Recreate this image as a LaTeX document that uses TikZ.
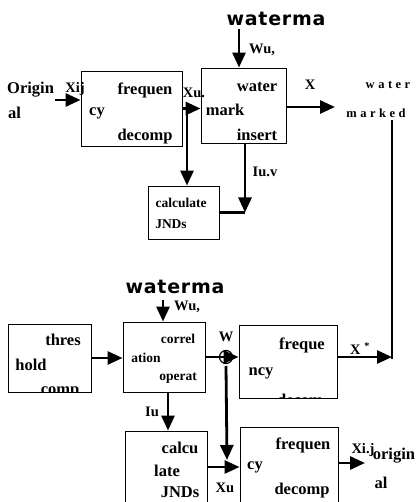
\documentclass[tikz,border=0pt]{standalone}
\usepackage{fontspec}
\setmainfont{Liberation Serif}
\newfontfamily\widefont[LetterSpace=4]{DejaVu Sans}
\newfontfamily\spacedfont[LetterSpace=28]{Liberation Serif}
\usetikzlibrary{arrows.meta}
\tikzset{
  blk/.style = {draw=black, line width=0.9pt, rectangle, inner sep=0pt},
  txt/.style = {inner sep=0pt, font=\fontsize{16.5}{16.5}\selectfont\bfseries},% texte des blocs
  small/.style = {inner sep=0pt, font=\fontsize{13.5}{13.5}\selectfont\bfseries},
  lbl/.style = {inner sep=0pt, font=\fontsize{14.5}{14.5}\selectfont\bfseries},% etiquettes des fleches
  wm/.style = {inner sep=0pt, font=\widefont\fontsize{19}{19}\selectfont\bfseries},
  flow/.style = {line width=2.8pt, -{Triangle[length=15pt,width=13pt]}},
  wire/.style = {line width=2.8pt},
}

\begin{document}
\begin{tikzpicture}[x=1pt,y=-1pt]
\useasboundingbox (0,0) rectangle (419,502);

% blocs
\node [blk, minimum width=101, minimum height=75] (fdtop) at (131.5,108.5) {};
\node [blk, minimum width=85, minimum height=75] (insert) at (243.5,105.5) {};
\node [blk, minimum width=71, minimum height=53] (jndtop) at (183.5,212.5) {};
\node [blk, minimum width=83, minimum height=68] (thres) at (49.5,358) {};
\node [blk, minimum width=82, minimum height=70] (corr) at (164,357) {};
\node [blk, minimum width=98, minimum height=73] (fdmid) at (288,361.5) {};
\node [blk, minimum width=82, minimum height=80] (jndbot) at (166,471) {};
\node [blk, minimum width=98, minimum height=84] (fdbot) at (289,469) {};

% textes des blocs
\node [txt] (f1) at (145,90) {frequen};
\node [txt] (f2) at (97,113) {cy};
\node [txt] (f3) at (145,137) {decomp};
\node [txt] (i1) at (257,87) {water};
\node [txt] (i2) at (225,110) {mark};
\node [txt] (i3) at (257,135) {insert};
\node [small] (j1) at (181,203) {calculate};
\node [small] (j2) at (171,224) {JNDs};
\node [txt] (t1) at (63,340) {thres};
\node [txt] (t2) at (31,365) {hold};
\begin{scope}
  \clip (thres.north west) rectangle (thres.south east);
  \node [txt] (t3) at (60,392) {comp};
\end{scope}
\node [small] (c1) at (178,339) {correl};
\node [small] (c2) at (146,358) {ation};
\node [small] (c3) at (178,378) {operat};
\node [txt] (m1) at (302,345) {freque};
\node [txt] (m2) at (261,373) {ncy};
\begin{scope}
  \clip (fdmid.north west) rectangle (fdmid.south east);
  \node [txt] (m3) at (300,400) {decom};
\end{scope}
\node [txt] (b1) at (180,448) {calcu};
\node [txt] (b2) at (167,471) {late};
\node [txt] (b3) at (180,492) {JNDs};
\node [txt] (d1) at (303,445) {frequen};
\node [txt] (d2) at (255,467) {cy};
\node [txt] (d3) at (302,491) {decomp};

% textes libres
\node [txt, anchor=west] (org1) at (7,90) {Origin};
\node [txt, anchor=west] (org2) at (8,113) {al};
\node [lbl] (xij) at (75,89) {Xij};
\node [lbl] (xu) at (194,93) {Xu.};
\node [wm] (wmtop) at (276,19) {waterma};
\node [lbl] (wu) at (262,50) {Wu,};
\node [lbl] (x) at (310,85) {X};
\node [lbl] (iuv) at (265,172) {Iu.v};
\node [inner sep=0pt, font=\spacedfont\fontsize{12.5}{12.5}\selectfont\bfseries] (wd1) at (388,85) {water};
\node [inner sep=0pt, font=\spacedfont\fontsize{12.5}{12.5}\selectfont\bfseries] (wd2) at (376,113) {marked};
\node [wm] (wmmid) at (175,287) {waterma};
\node [lbl] (wu2) at (187,307) {Wu,};
\node [lbl] (w) at (226,337) {W};
\node [lbl] (xs) at (360,349) {X \textsuperscript{*}};
\node [lbl] (iu) at (152,412) {Iu};
\node [lbl] (xu2) at (225,488) {Xu};
\node [lbl] (xij2) at (363,450) {Xi.j};
\node [txt] (org3) at (394,456) {origin};
\node [txt] (org4) at (381,483) {al};

% points de liaison
\coordinate (src) at (55,100);
\coordinate (split) at (187,108.5);
\coordinate (wtop) at (239,29);
\coordinate (jc) at (245,212.5);
\coordinate (xout) at (335,107);
\coordinate (mtop) at (392,120);
\coordinate (mbot) at (392,359);
\coordinate (wmid) at (163,300);
\coordinate (ic) at (168,392);
\coordinate (xr) at (226,357);
\coordinate (xd) at (227,460);
\coordinate (oout) at (365,463);

% fleches
\draw [flow] (src) -- (src -| fdtop.west);
\draw [flow] (fdtop.east) -- (fdtop.east -| insert.west);
\draw [flow] (split) -- (split |- jndtop.north);
\draw [flow] (wtop) -- (wtop |- insert.north);
\draw [flow] (jc |- insert.south) -- (jc);
\draw [wire] (jndtop.east) -- (jc);
\draw [flow] (insert.east |- xout) -- (xout);
\draw [wire] (mtop) -- (mbot);
\draw [flow] (fdmid.east |- 0,357) -- (392,357);
\draw [flow] (thres.east) -- (thres.east -| corr.west);
\draw [flow] (wmid) -- (wmid |- corr.north);
\draw [flow] (corr.east |- xr) -- (xr -| fdmid.west);
\draw [line width=1.2pt] (xr) circle (6.5);
\draw [flow] (xr |- 0,366) -- (xd);
\draw [flow] (jndbot.east |- 0,467) -- (fdbot.west |- 0,467);
\draw [flow] (ic) -- (ic |- jndbot.north);
\draw [flow] (fdbot.east |- oout) -- (oout);
\end{tikzpicture}
\end{document}
